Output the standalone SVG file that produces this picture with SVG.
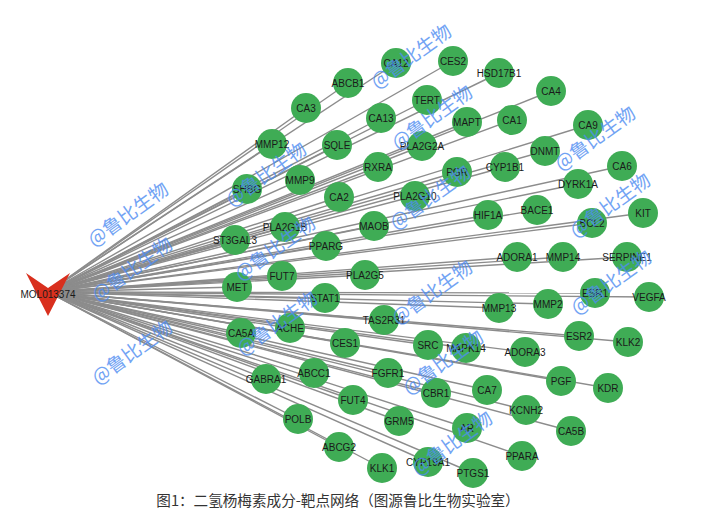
<svg xmlns="http://www.w3.org/2000/svg" width="712" height="515" viewBox="0 0 712 515">
<style>
.e{stroke:#8c8c8c;stroke-width:1.4;fill:none}
.n{fill:#3fac55}
.l{font-family:"Liberation Sans",Arial,sans-serif;font-size:10px;fill:#1a1a1a;text-anchor:middle}
.w{font-family:"Noto Sans CJK SC",sans-serif;font-size:19px;fill:#4f8df2;opacity:0.8;text-anchor:middle}
.c{font-family:"Noto Sans CJK SC",sans-serif;font-size:14.6px;fill:#333;text-anchor:middle}
</style>
<rect width="712" height="515" fill="#fff"/>
<g id="edges">
<line class="e" x1="48" y1="292" x2="396" y2="63"/>
<line class="e" x1="48" y1="292" x2="453" y2="61"/>
<line class="e" x1="48" y1="292" x2="499" y2="73"/>
<line class="e" x1="48" y1="292" x2="348" y2="83"/>
<line class="e" x1="48" y1="292" x2="551" y2="91"/>
<line class="e" x1="48" y1="292" x2="306" y2="108"/>
<line class="e" x1="48" y1="292" x2="427" y2="100"/>
<line class="e" x1="48" y1="292" x2="381" y2="118"/>
<line class="e" x1="48" y1="292" x2="467" y2="122"/>
<line class="e" x1="48" y1="292" x2="512" y2="120"/>
<line class="e" x1="48" y1="292" x2="588" y2="125"/>
<line class="e" x1="48" y1="292" x2="272" y2="144"/>
<line class="e" x1="48" y1="292" x2="337" y2="145"/>
<line class="e" x1="48" y1="292" x2="422" y2="146"/>
<line class="e" x1="48" y1="292" x2="545" y2="151"/>
<line class="e" x1="48" y1="292" x2="378" y2="167"/>
<line class="e" x1="48" y1="292" x2="457" y2="172"/>
<line class="e" x1="48" y1="292" x2="505" y2="167"/>
<line class="e" x1="48" y1="292" x2="622" y2="166"/>
<line class="e" x1="48" y1="292" x2="247" y2="189"/>
<line class="e" x1="48" y1="292" x2="300" y2="180"/>
<line class="e" x1="48" y1="292" x2="578" y2="184"/>
<line class="e" x1="48" y1="292" x2="339" y2="197"/>
<line class="e" x1="48" y1="292" x2="415" y2="196"/>
<line class="e" x1="48" y1="292" x2="488" y2="215"/>
<line class="e" x1="48" y1="292" x2="537" y2="210"/>
<line class="e" x1="48" y1="292" x2="643" y2="213"/>
<line class="e" x1="48" y1="292" x2="592" y2="223"/>
<line class="e" x1="48" y1="292" x2="285" y2="227"/>
<line class="e" x1="48" y1="292" x2="374" y2="226"/>
<line class="e" x1="48" y1="292" x2="235" y2="240"/>
<line class="e" x1="48" y1="292" x2="326" y2="246"/>
<line class="e" x1="48" y1="292" x2="517" y2="257"/>
<line class="e" x1="48" y1="292" x2="563" y2="257"/>
<line class="e" x1="48" y1="292" x2="627" y2="257"/>
<line class="e" x1="48" y1="292" x2="282" y2="276"/>
<line class="e" x1="48" y1="292" x2="365" y2="275"/>
<line class="e" x1="48" y1="292" x2="237" y2="287"/>
<line class="e" x1="48" y1="292" x2="325" y2="298"/>
<line class="e" x1="48" y1="292" x2="595" y2="293"/>
<line class="e" x1="48" y1="292" x2="649" y2="297"/>
<line class="e" x1="48" y1="292" x2="499" y2="308"/>
<line class="e" x1="48" y1="292" x2="548" y2="304"/>
<line class="e" x1="48" y1="292" x2="384" y2="320"/>
<line class="e" x1="48" y1="292" x2="241" y2="333"/>
<line class="e" x1="48" y1="292" x2="290" y2="328"/>
<line class="e" x1="48" y1="292" x2="579" y2="336"/>
<line class="e" x1="48" y1="292" x2="628" y2="342"/>
<line class="e" x1="48" y1="292" x2="345" y2="343"/>
<line class="e" x1="48" y1="292" x2="428" y2="345"/>
<line class="e" x1="48" y1="292" x2="466" y2="348"/>
<line class="e" x1="48" y1="292" x2="525" y2="352"/>
<line class="e" x1="48" y1="292" x2="266" y2="379"/>
<line class="e" x1="48" y1="292" x2="314" y2="373"/>
<line class="e" x1="48" y1="292" x2="388" y2="373"/>
<line class="e" x1="48" y1="292" x2="561" y2="381"/>
<line class="e" x1="48" y1="292" x2="608" y2="388"/>
<line class="e" x1="48" y1="292" x2="436" y2="393"/>
<line class="e" x1="48" y1="292" x2="487" y2="390"/>
<line class="e" x1="48" y1="292" x2="353" y2="400"/>
<line class="e" x1="48" y1="292" x2="526" y2="410"/>
<line class="e" x1="48" y1="292" x2="298" y2="419"/>
<line class="e" x1="48" y1="292" x2="399" y2="421"/>
<line class="e" x1="48" y1="292" x2="467" y2="428"/>
<line class="e" x1="48" y1="292" x2="571" y2="431"/>
<line class="e" x1="48" y1="292" x2="339" y2="447"/>
<line class="e" x1="48" y1="292" x2="522" y2="456"/>
<line class="e" x1="48" y1="292" x2="382" y2="468"/>
<line class="e" x1="48" y1="292" x2="428" y2="462"/>
<line class="e" x1="48" y1="292" x2="473" y2="473"/>
</g>
<g id="MOL013374"><polygon points="26,273 48,288 70,273 48,316" fill="#d9301e"/><text class="l" x="48" y="297.5">MOL013374</text></g>
<g id="CA12"><circle class="n" cx="396" cy="63" r="15"/><text class="l" x="396" y="66.5">CA12</text></g>
<g id="CES2"><circle class="n" cx="453" cy="61" r="15"/><text class="l" x="453" y="64.5">CES2</text></g>
<g id="HSD17B1"><circle class="n" cx="499" cy="73" r="15"/><text class="l" x="499" y="76.5">HSD17B1</text></g>
<g id="ABCB1"><circle class="n" cx="348" cy="83" r="15"/><text class="l" x="348" y="86.5">ABCB1</text></g>
<g id="CA4"><circle class="n" cx="551" cy="91" r="15"/><text class="l" x="551" y="94.5">CA4</text></g>
<g id="CA3"><circle class="n" cx="306" cy="108" r="15"/><text class="l" x="306" y="111.5">CA3</text></g>
<g id="TERT"><circle class="n" cx="427" cy="100" r="15"/><text class="l" x="427" y="103.5">TERT</text></g>
<g id="CA13"><circle class="n" cx="381" cy="118" r="15"/><text class="l" x="381" y="121.5">CA13</text></g>
<g id="MAPT"><circle class="n" cx="467" cy="122" r="15"/><text class="l" x="467" y="125.5">MAPT</text></g>
<g id="CA1"><circle class="n" cx="512" cy="120" r="15"/><text class="l" x="512" y="123.5">CA1</text></g>
<g id="CA9"><circle class="n" cx="588" cy="125" r="15"/><text class="l" x="588" y="128.5">CA9</text></g>
<g id="MMP12"><circle class="n" cx="272" cy="144" r="15"/><text class="l" x="272" y="147.5">MMP12</text></g>
<g id="SQLE"><circle class="n" cx="337" cy="145" r="15"/><text class="l" x="337" y="148.5">SQLE</text></g>
<g id="PLA2G2A"><circle class="n" cx="422" cy="146" r="15"/><text class="l" x="422" y="149.5">PLA2G2A</text></g>
<g id="DNMT"><circle class="n" cx="545" cy="151" r="15"/><text class="l" x="545" y="154.5">DNMT</text></g>
<g id="RXRA"><circle class="n" cx="378" cy="167" r="15"/><text class="l" x="378" y="170.5">RXRA</text></g>
<g id="PGR"><circle class="n" cx="457" cy="172" r="15"/><text class="l" x="457" y="175.5">PGR</text></g>
<g id="CYP1B1"><circle class="n" cx="505" cy="167" r="15"/><text class="l" x="505" y="170.5">CYP1B1</text></g>
<g id="CA6"><circle class="n" cx="622" cy="166" r="15"/><text class="l" x="622" y="169.5">CA6</text></g>
<g id="SHBG"><circle class="n" cx="247" cy="189" r="15"/><text class="l" x="247" y="192.5">SHBG</text></g>
<g id="MMP9"><circle class="n" cx="300" cy="180" r="15"/><text class="l" x="300" y="183.5">MMP9</text></g>
<g id="DYRK1A"><circle class="n" cx="578" cy="184" r="15"/><text class="l" x="578" y="187.5">DYRK1A</text></g>
<g id="CA2"><circle class="n" cx="339" cy="197" r="15"/><text class="l" x="339" y="200.5">CA2</text></g>
<g id="PLA2G10"><circle class="n" cx="415" cy="196" r="15"/><text class="l" x="415" y="199.5">PLA2G10</text></g>
<g id="HIF1A"><circle class="n" cx="488" cy="215" r="15"/><text class="l" x="488" y="218.5">HIF1A</text></g>
<g id="BACE1"><circle class="n" cx="537" cy="210" r="15"/><text class="l" x="537" y="213.5">BACE1</text></g>
<g id="KIT"><circle class="n" cx="643" cy="213" r="15"/><text class="l" x="643" y="216.5">KIT</text></g>
<g id="BCL2"><circle class="n" cx="592" cy="223" r="15"/><text class="l" x="592" y="226.5">BCL2</text></g>
<g id="PLA2G1B"><circle class="n" cx="285" cy="227" r="15"/><text class="l" x="285" y="230.5">PLA2G1B</text></g>
<g id="MAOB"><circle class="n" cx="374" cy="226" r="15"/><text class="l" x="374" y="229.5">MAOB</text></g>
<g id="ST3GAL3"><circle class="n" cx="235" cy="240" r="15"/><text class="l" x="235" y="243.5">ST3GAL3</text></g>
<g id="PPARG"><circle class="n" cx="326" cy="246" r="15"/><text class="l" x="326" y="249.5">PPARG</text></g>
<g id="ADORA1"><circle class="n" cx="517" cy="257" r="15"/><text class="l" x="517" y="260.5">ADORA1</text></g>
<g id="MMP14"><circle class="n" cx="563" cy="257" r="15"/><text class="l" x="563" y="260.5">MMP14</text></g>
<g id="SERPINE1"><circle class="n" cx="627" cy="257" r="15"/><text class="l" x="627" y="260.5">SERPINE1</text></g>
<g id="FUT7"><circle class="n" cx="282" cy="276" r="15"/><text class="l" x="282" y="279.5">FUT7</text></g>
<g id="PLA2G5"><circle class="n" cx="365" cy="275" r="15"/><text class="l" x="365" y="278.5">PLA2G5</text></g>
<g id="MET"><circle class="n" cx="237" cy="287" r="15"/><text class="l" x="237" y="290.5">MET</text></g>
<g id="STAT1"><circle class="n" cx="325" cy="298" r="15"/><text class="l" x="325" y="301.5">STAT1</text></g>
<g id="ESR1"><circle class="n" cx="595" cy="293" r="15"/><text class="l" x="595" y="296.5">ESR1</text></g>
<g id="VEGFA"><circle class="n" cx="649" cy="297" r="15"/><text class="l" x="649" y="300.5">VEGFA</text></g>
<g id="MMP13"><circle class="n" cx="499" cy="308" r="15"/><text class="l" x="499" y="311.5">MMP13</text></g>
<g id="MMP2"><circle class="n" cx="548" cy="304" r="15"/><text class="l" x="548" y="307.5">MMP2</text></g>
<g id="TAS2R31"><circle class="n" cx="384" cy="320" r="15"/><text class="l" x="384" y="323.5">TAS2R31</text></g>
<g id="CA5A"><circle class="n" cx="241" cy="333" r="15"/><text class="l" x="241" y="336.5">CA5A</text></g>
<g id="ACHE"><circle class="n" cx="290" cy="328" r="15"/><text class="l" x="290" y="331.5">ACHE</text></g>
<g id="ESR2"><circle class="n" cx="579" cy="336" r="15"/><text class="l" x="579" y="339.5">ESR2</text></g>
<g id="KLK2"><circle class="n" cx="628" cy="342" r="15"/><text class="l" x="628" y="345.5">KLK2</text></g>
<g id="CES1"><circle class="n" cx="345" cy="343" r="15"/><text class="l" x="345" y="346.5">CES1</text></g>
<g id="SRC"><circle class="n" cx="428" cy="345" r="15"/><text class="l" x="428" y="348.5">SRC</text></g>
<g id="MAPK14"><circle class="n" cx="466" cy="348" r="15"/><text class="l" x="466" y="351.5">MAPK14</text></g>
<g id="ADORA3"><circle class="n" cx="525" cy="352" r="15"/><text class="l" x="525" y="355.5">ADORA3</text></g>
<g id="GABRA1"><circle class="n" cx="266" cy="379" r="15"/><text class="l" x="266" y="382.5">GABRA1</text></g>
<g id="ABCC1"><circle class="n" cx="314" cy="373" r="15"/><text class="l" x="314" y="376.5">ABCC1</text></g>
<g id="FGFR1"><circle class="n" cx="388" cy="373" r="15"/><text class="l" x="388" y="376.5">FGFR1</text></g>
<g id="PGF"><circle class="n" cx="561" cy="381" r="15"/><text class="l" x="561" y="384.5">PGF</text></g>
<g id="KDR"><circle class="n" cx="608" cy="388" r="15"/><text class="l" x="608" y="391.5">KDR</text></g>
<g id="CBR1"><circle class="n" cx="436" cy="393" r="15"/><text class="l" x="436" y="396.5">CBR1</text></g>
<g id="CA7"><circle class="n" cx="487" cy="390" r="15"/><text class="l" x="487" y="393.5">CA7</text></g>
<g id="FUT4"><circle class="n" cx="353" cy="400" r="15"/><text class="l" x="353" y="403.5">FUT4</text></g>
<g id="KCNH2"><circle class="n" cx="526" cy="410" r="15"/><text class="l" x="526" y="413.5">KCNH2</text></g>
<g id="POLB"><circle class="n" cx="298" cy="419" r="15"/><text class="l" x="298" y="422.5">POLB</text></g>
<g id="GRM5"><circle class="n" cx="399" cy="421" r="15"/><text class="l" x="399" y="424.5">GRM5</text></g>
<g id="AR"><circle class="n" cx="467" cy="428" r="15"/><text class="l" x="467" y="431.5">AR</text></g>
<g id="CA5B"><circle class="n" cx="571" cy="431" r="15"/><text class="l" x="571" y="434.5">CA5B</text></g>
<g id="ABCG2"><circle class="n" cx="339" cy="447" r="15"/><text class="l" x="339" y="450.5">ABCG2</text></g>
<g id="PPARA"><circle class="n" cx="522" cy="456" r="15"/><text class="l" x="522" y="459.5">PPARA</text></g>
<g id="KLK1"><circle class="n" cx="382" cy="468" r="15"/><text class="l" x="382" y="471.5">KLK1</text></g>
<g id="CYP19A1"><circle class="n" cx="428" cy="462" r="15"/><text class="l" x="428" y="465.5">CYP19A1</text></g>
<g id="PTGS1"><circle class="n" cx="473" cy="473" r="15"/><text class="l" x="473" y="476.5">PTGS1</text></g>
<g id="watermarks">
<text class="w" transform="translate(411,56) rotate(-36)" y="7">@鲁比生物</text>
<text class="w" transform="translate(432,117) rotate(-36)" y="7">@鲁比生物</text>
<text class="w" transform="translate(266,174) rotate(-36)" y="7">@鲁比生物</text>
<text class="w" transform="translate(595,138) rotate(-36)" y="7">@鲁比生物</text>
<text class="w" transform="translate(430,197) rotate(-36)" y="7">@鲁比生物</text>
<text class="w" transform="translate(610,205) rotate(-36)" y="7">@鲁比生物</text>
<text class="w" transform="translate(128,214) rotate(-36)" y="7">@鲁比生物</text>
<text class="w" transform="translate(275,248) rotate(-36)" y="7">@鲁比生物</text>
<text class="w" transform="translate(132,269) rotate(-36)" y="7">@鲁比生物</text>
<text class="w" transform="translate(277,323) rotate(-36)" y="7">@鲁比生物</text>
<text class="w" transform="translate(432,292) rotate(-36)" y="7">@鲁比生物</text>
<text class="w" transform="translate(611,282) rotate(-36)" y="7">@鲁比生物</text>
<text class="w" transform="translate(132,352) rotate(-36)" y="7">@鲁比生物</text>
<text class="w" transform="translate(443,362) rotate(-36)" y="7">@鲁比生物</text>
<text class="w" transform="translate(452,443) rotate(-36)" y="7">@鲁比生物</text>
</g>
<text class="c" x="338" y="506">图1：二氢杨梅素成分-靶点网络（图源鲁比生物实验室）</text>
</svg>
